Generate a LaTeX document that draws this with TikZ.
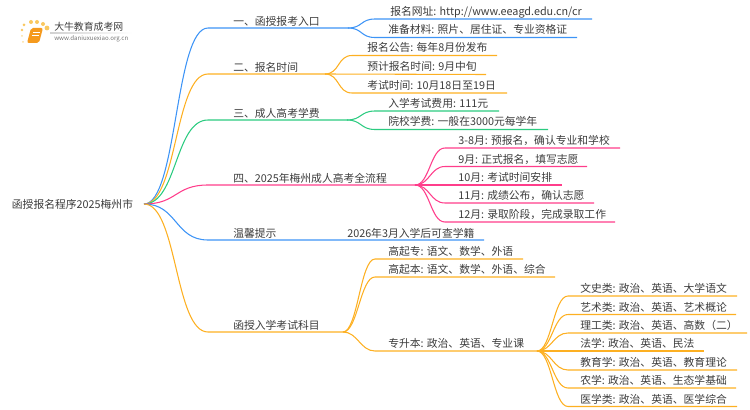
\documentclass[tikz,border=0pt]{standalone}
\usepackage{fontspec}
\usepackage{xcolor}
\setmainfont{Noto Sans CJK SC}
\definecolor{lineBlue}{HTML}{3D94F6}
\definecolor{lineOrange}{HTML}{FDB022}
\definecolor{lineGreen}{HTML}{2BCB80}
\definecolor{linePink}{HTML}{FF3D8B}
\definecolor{textGray}{HTML}{3C3C3C}
\definecolor{bookOrange}{HTML}{F59A1E}
\definecolor{dotYellow}{HTML}{F9C860}
\tikzstyle{lbl} = [anchor=base west, inner sep=0, text=textGray,
   font=\fontsize{8.1}{10}\selectfont]
\tikzstyle{trunk} = [out=0, in=180, distance=25pt]
\tikzstyle{branch} = [out=0, in=180, distance=11pt]
\tikzstyle{wire} = [line width=0.8pt]

\begin{document}
\begin{tikzpicture}[x=0.75pt,y=-0.75pt]
  \useasboundingbox (0,0) rectangle (750,410);

  % logo
  \fill[dotYellow!60] (22,36) circle (1) (23,42) circle (1);
  \fill[dotYellow] (22,30) circle (1.3) (24,25) circle (1.5) (31,22) circle (2)
     (37,22) circle (2) (43,24) circle (2) (47,28) circle (2.4);
  \fill[rounded corners=1.5,bookOrange] (31,28) -- (43,28) -- (39,43) -- (27,43) -- cycle;
  \draw[white,line width=0.4pt] (33,32) -- (40,32) (32,35) -- (39,35);
  \shade[left color=black!18,right color=white] (50,33) rectangle (132,33.7);
  \node[lbl,font=\fontsize{7.4}{9}\selectfont] (logo) at (54,30.5) {大牛教育成考网};
  \node[lbl,text=black!55,font=\fontsize{4.6}{6}\selectfont] (site) at (54,41) {www.daniuxuexiao.org.cn};

  % root and first level
  \node[lbl,anchor=center,inner xsep=8] (r) at (72.5,204) {函授报名程序2025梅州市};
  \node[lbl] (a) at (233,25.2) {一、函授报考入口};
  \node[lbl] (b) at (233,71.2) {二、报名时间};
  \node[lbl] (c) at (233,117.2) {三、成人高考学费};
  \node[lbl] (d) at (233,182) {四、2025年梅州成人高考全流程};
  \node[lbl] (e) at (233,237.2) {温馨提示};
  \node[lbl] (f) at (233,329.2) {函授入学考试科目};

  % second level
  \node[lbl] (a1) at (390,15.5) {报名网址: http://www.eeagd.edu.cn/cr};
  \node[lbl] (a2) at (388,34) {准备材料: 照片、居住证、专业资格证};
  \node[lbl] (b1) at (367,52) {报名公告: 每年8月份发布};
  \node[lbl] (b2) at (367,71) {预计报名时间: 9月中旬};
  \node[lbl] (b3) at (367,89.5) {考试时间: 10月18日至19日};
  \node[lbl] (c1) at (388,107.5) {入学考试费用: 111元};
  \node[lbl] (c2) at (388,126) {院校学费: 一般在3000元每学年};
  \node[lbl] (d1) at (458,144.5) {3-8月: 预报名，确认专业和学校};
  \node[lbl] (d2) at (458,163) {9月: 正式报名，填写志愿};
  \node[lbl] (d3) at (458,181.5) {10月: 考试时间安排};
  \node[lbl] (d4) at (458,199.5) {11月: 成绩公布，确认志愿};
  \node[lbl] (d5) at (458,218.5) {12月: 录取阶段，完成录取工作};
  \node[lbl] (e1) at (347,237.2) {2026年3月入学后可查学籍};
  \node[lbl] (f1) at (388,255.5) {高起专: 语文、数学、外语};
  \node[lbl] (f2) at (388,273.5) {高起本: 语文、数学、外语、综合};
  \node[lbl] (f3) at (388,347.5) {专升本: 政治、英语、专业课};

  % third level
  \node[lbl] (g1) at (580,292.5) {文史类: 政治、英语、大学语文};
  \node[lbl] (g2) at (580,311) {艺术类: 政治、英语、艺术概论};
  \node[lbl] (g3) at (580,329.5) {理工类: 政治、英语、高数（二）};
  \node[lbl] (g4) at (580,347.5) {法学: 政治、英语、民法};
  \node[lbl] (g5) at (580,366.5) {教育学: 政治、英语、教育理论};
  \node[lbl] (g6) at (580,384.5) {农学: 政治、英语、生态学基础};
  \node[lbl] (g7) at (580,403) {医学类: 政治、英语、医学综合};

  % line ends: s = where the curve lands, e = end of the bar
  \coordinate (as) at (208,28);   \coordinate (ae) at (348,28);
  \coordinate (bs) at (208,74);   \coordinate (be) at (325,74);
  \coordinate (cs) at (208,120);  \coordinate (ce) at (347,120);
  \coordinate (ds) at (208,185);  \coordinate (de) at (415,185);
  \coordinate (es) at (208,240);  \coordinate (ee) at (484,240);
  \coordinate (fs) at (208,332);  \coordinate (fe) at (343,332);
  \coordinate (a1s) at (375,19);  \coordinate (a1e) at (592,19);
  \coordinate (a2s) at (375,37.5);\coordinate (a2e) at (577,37.5);
  \coordinate (b1s) at (352,55.5);\coordinate (b1e) at (497,55.5);
  \coordinate (b3s) at (352,93);  \coordinate (b3e) at (507,93);
  \coordinate (b2e) at (486,74.5);
  \coordinate (c1s) at (375,111); \coordinate (c1e) at (499,111);
  \coordinate (c2s) at (375,129.5);\coordinate (c2e) at (548,129.5);
  \coordinate (d1s) at (445,148); \coordinate (d1e) at (620,148);
  \coordinate (d2s) at (445,166.5);\coordinate (d2e) at (587,166.5);
  \coordinate (d3e) at (562,185);
  \coordinate (d4s) at (445,203); \coordinate (d4e) at (594,203);
  \coordinate (d5s) at (445,222); \coordinate (d5e) at (615,222);
  \coordinate (f1s) at (375,259); \coordinate (f1e) at (523,259);
  \coordinate (f2s) at (375,277); \coordinate (f2e) at (555,277);
  \coordinate (f3s) at (375,351); \coordinate (f3e) at (537,351);
  \coordinate (g1s) at (568,296); \coordinate (g1e) at (737,296);
  \coordinate (g2s) at (568,314.5);\coordinate (g2e) at (736,314.5);
  \coordinate (g3s) at (568,333); \coordinate (g3e) at (747,333);
  \coordinate (g4e) at (704,351);
  \coordinate (g5s) at (568,370); \coordinate (g5e) at (737,370);
  \coordinate (g6s) at (568,388); \coordinate (g6e) at (736,388);
  \coordinate (g7s) at (568,406.5);\coordinate (g7e) at (737,406.5);

  % draw the branches
  \draw[wire,lineBlue] (r.east) to[trunk] (as) -- (ae);
  \draw[wire,lineOrange] (r.east) to[trunk] (bs) -- (be);
  \draw[wire,lineGreen] (r.east) to[trunk] (cs) -- (ce);
  \draw[wire,linePink] (r.east) to[trunk] (ds) -- (de);
  \draw[wire,lineBlue] (r.east) to[trunk] (es) -- (ee);
  \draw[wire,lineOrange] (r.east) to[trunk] (fs) -- (fe);

  \draw[wire,lineBlue] (ae) to[branch] (a1s) -- (a1e);
  \draw[wire,lineBlue] (ae) to[branch] (a2s) -- (a2e);
  \draw[wire,lineOrange] (be) to[branch] (b1s) -- (b1e);
  \draw[wire,lineOrange] (be) -- (b2e);
  \draw[wire,lineOrange] (be) to[branch] (b3s) -- (b3e);
  \draw[wire,lineGreen] (ce) to[branch] (c1s) -- (c1e);
  \draw[wire,lineGreen] (ce) to[branch] (c2s) -- (c2e);
  \draw[wire,linePink] (de) to[branch] (d1s) -- (d1e);
  \draw[wire,linePink] (de) to[branch] (d2s) -- (d2e);
  \draw[wire,linePink] (de) -- (d3e);
  \draw[wire,linePink] (de) to[branch] (d4s) -- (d4e);
  \draw[wire,linePink] (de) to[branch] (d5s) -- (d5e);
  \draw[wire,lineOrange] (fe) to[branch] (f1s) -- (f1e);
  \draw[wire,lineOrange] (fe) to[branch] (f2s) -- (f2e);
  \draw[wire,lineOrange] (fe) to[branch] (f3s) -- (f3e);
  \draw[wire,lineOrange] (f3e) to[branch] (g1s) -- (g1e);
  \draw[wire,lineOrange] (f3e) to[branch] (g2s) -- (g2e);
  \draw[wire,lineOrange] (f3e) to[branch] (g3s) -- (g3e);
  \draw[wire,lineOrange] (f3e) -- (g4e);
  \draw[wire,lineOrange] (f3e) to[branch] (g5s) -- (g5e);
  \draw[wire,lineOrange] (f3e) to[branch] (g6s) -- (g6e);
  \draw[wire,lineOrange] (f3e) to[branch] (g7s) -- (g7e);
\end{tikzpicture}
\end{document}
